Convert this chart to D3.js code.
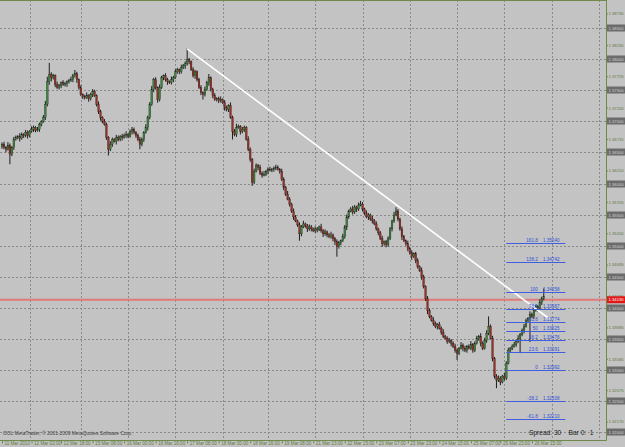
<!DOCTYPE html>
<html><head><meta charset="utf-8">
<script src="https://cdn.jsdelivr.net/npm/d3@7"></script>
<style>body{margin:0;background:#c3c3c3}svg{display:block}</style>
</head><body>
<script>
// ---- data ----
const closes = [1.36630,1.36582,1.36550,1.36614,1.36470,1.36582,1.36710,1.36742,1.36758,1.36726,
1.36790,1.36774,1.36822,1.36774,1.36838,1.36870,1.36902,1.36854,1.36870,1.36950,
1.36998,1.37062,1.37270,1.37638,1.37750,1.37702,1.37734,1.37590,1.37542,1.37574,
1.37622,1.37590,1.37606,1.37638,1.37654,1.37670,1.37734,1.37766,1.37670,1.37542,
1.37430,1.37398,1.37382,1.37414,1.37366,1.37430,1.37478,1.37414,1.37270,1.37158,
1.37062,1.36998,1.36950,1.36742,1.36550,1.36630,1.36710,1.36678,1.36742,1.36710,
1.36758,1.36742,1.36774,1.36790,1.36758,1.36838,1.36870,1.36822,1.36774,1.36710,
1.36630,1.36710,1.36822,1.36902,1.37062,1.37270,1.37510,1.37670,1.37542,1.37350,
1.37542,1.37702,1.37734,1.37670,1.37638,1.37622,1.37670,1.37702,1.37798,1.37830,
1.37798,1.37862,1.37894,1.37926,1.37990,1.37958,1.37830,1.37734,1.37798,1.37670,
1.37542,1.37462,1.37430,1.37510,1.37622,1.37702,1.37510,1.37414,1.37350,1.37366,
1.37334,1.37350,1.37302,1.37222,1.37190,1.37254,1.37062,1.36838,1.36790,1.36902,
1.36918,1.36838,1.36870,1.36902,1.36710,1.36550,1.36390,1.36022,1.36198,1.36294,
1.36262,1.36166,1.36134,1.36150,1.36198,1.36230,1.36214,1.36230,1.36246,1.36262,
1.36230,1.36198,1.36070,1.35942,1.35830,1.35750,1.35670,1.35558,1.35462,1.35398,
1.35334,1.35190,1.35302,1.35350,1.35318,1.35270,1.35302,1.35270,1.35238,1.35270,
1.35254,1.35302,1.35238,1.35190,1.35222,1.35174,1.35142,1.35174,1.35110,1.35062,
1.34982,1.35046,1.35078,1.35142,1.35302,1.35462,1.35558,1.35590,1.35542,1.35622,
1.35590,1.35654,1.35670,1.35590,1.35526,1.35462,1.35494,1.35430,1.35398,1.35350,
1.35270,1.35206,1.35110,1.35030,1.35062,1.35014,1.35110,1.35270,1.35398,1.35494,
1.35558,1.35430,1.35270,1.35142,1.35078,1.35030,1.34950,1.34886,1.34822,1.34870,
1.34758,1.34662,1.34598,1.34502,1.34342,1.34150,1.33958,1.33862,1.33798,1.33750,
1.33702,1.33734,1.33670,1.33606,1.33542,1.33510,1.33462,1.33478,1.33430,1.33382,
1.33318,1.33270,1.33350,1.33398,1.33350,1.33318,1.33382,1.33350,1.33414,1.33318,
1.33430,1.33510,1.33542,1.33430,1.33350,1.33478,1.33590,1.33702,1.33510,1.33190,
1.32902,1.32838,1.32870,1.32806,1.32902,1.32870,1.33110,1.33318,1.33350,1.33382,
1.33414,1.33462,1.33510,1.33574,1.33638,1.33702,1.33798,1.33830,1.33894,1.33862,
1.33958,1.34022,1.33990,1.34086,1.34150,1.34182];
const firstOpen = 1.36600;
// upper / lower shadows, in pips
const wickUp = [3,4,2,5,3,2,4,3,2,5, 3,2,4,3,2,5,3,2,4,3, 2,4,6,8,19,4,3,2,5,3, 2,4,3,2,3,5,3,6,3,2,
4,2,3,5,2,3,4,3,2,5, 3,2,4,3,2,5,3,2,4,3, 2,4,3,5,2,3,4,3,2,3, 4,3,2,5,3,4,6,3,4,2,
5,3,2,4,3,2,5,3,4,3, 2,5,3,4,18,3,2,4,3,2, 3,4,2,5,3,6,2,3,4,2, 3,5,2,4,3,2,5,3,4,6,
3,2,4,3,2,5,3,2,4,3, 2,4,3,5,2,3,4,2,3,4, 3,2,4,3,2,5,3,2,4,3, 2,4,3,5,2,3,4,3,2,4,
3,2,5,3,4,2,3,5,2,3, 4,3,2,5,3,4,2,3,5,3, 2,4,5,3,2,4,3,2,5,3, 4,2,3,5,2,3,4,3,2,5,
6,3,2,4,3,2,5,3,4,2, 3,4,2,5,3,2,4,3,2,5, 3,2,4,3,5,2,3,4,2,3, 4,3,2,5,3,4,2,3,5,2,
3,4,2,5,3,4,5,16,3,4, 2,3,4,3,2,5,3,4,2,3, 4,3,5,2,3,4,3,2,5,3, 4,3,2,5,3,13];
const wickDn = [4,3,5,2,16,3,4,2,3,5, 2,4,3,5,3,2,4,3,2,4, 3,2,4,3,5,6,3,4,2,3, 4,2,3,5,3,2,4,3,5,3,
2,4,3,2,5,3,4,2,3,4, 5,3,2,4,10,3,4,2,5,3, 3,5,2,4,3,2,5,3,4,3, 8,3,4,2,5,3,2,4,3,5,
3,2,4,3,5,2,3,4,2,3, 4,3,2,5,3,4,2,3,5,3, 2,4,8,3,2,5,3,4,2,3, 4,3,2,5,3,4,2,13,3,4,
2,5,3,4,2,3,4,6,3,2, 5,3,4,2,3,5,2,3,4,3, 2,4,3,5,3,2,4,3,5,2, 3,11,4,2,3,5,3,4,2,3,
4,2,3,5,3,4,2,3,4,5, 16,3,4,2,3,5,3,2,4,3, 5,3,2,4,3,2,5,3,4,2, 3,4,2,5,3,4,3,2,4,3,
2,4,3,5,2,3,4,3,5,2, 4,3,2,5,3,4,6,3,2,4, 3,5,2,4,3,2,4,3,5,3, 4,11,3,2,5,3,4,2,3,4,
3,2,4,5,3,2,4,3,2,5, 4,13,3,5,2,4,3,2,4,3, 2,4,3,24,3,5,2,4,38,3, 4,2,5,3,4,3];

const priceLabels = [1.38735,1.38230,1.37725,1.37220,1.36715,1.36210,1.35705,1.35200,1.34695,1.34190,1.33685,1.33180,1.32675,1.32170];
const gridPrices = [1.3850,1.3800,1.3750,1.3700,1.3650,1.3600,1.3550,1.3500,1.3450,1.3400,1.3350,1.3300,1.3250,1.3200];
const dateLabels = ["11 Mar 2010","12 Mar 02:00","12 Mar 18:00","15 Mar 08:00","16 Mar 00:00","16 Mar 16:00","17 Mar 08:00","18 Mar 00:00","18 Mar 16:00","19 Mar 08:00","21 Mar 23:00","22 Mar 15:00","23 Mar 07:00","23 Mar 23:00","24 Mar 15:00","25 Mar 07:00","25 Mar 23:00","26 Mar 15:00"];
const dateBars = [0,15,30,46,62,78,94,110,126,142,158,174,190,206,222,238,253,269];
const gridBars = [14,40,64,88,112,135,159,183,207,231,255,279,303];
const trendBars = [94,278];
const trendPrices = [1.38165,1.33820];
const fibLevels = [-61.8,-38.2,0,23.6,38.2,50,61.8,78.6,100,138.2,161.8];
const fibZero = 1.32992, fibHundred = 1.34258;
const fibBars = [256,286], fibTextBar = 283;
const bid = 1.34130;

// ---- layout ----
const W = 625, H = 447, plotR = 606, plotB = 440;
const bg = "#c3c3c3", axisCol = "#6f8a4a", textCol = "#62783e";
const FONT = "Liberation Sans, Arial, sans-serif";

const x = d3.scaleLinear().domain([0, 300]).range([2, 2 + 300 * 1.97]);
const y = d3.scaleLinear().domain([1.38735, 1.32670]).range([13.5, 390.5]);

const svg = d3.select("body").append("svg").attr("width", W).attr("height", H)
  .style("font-family", FONT);
svg.append("rect").attr("width", W).attr("height", H).attr("fill", bg);

svg.append("clipPath").attr("id", "plot").append("rect")
  .attr("x", 0).attr("y", 0).attr("width", plotR).attr("height", plotB);
const plot = svg.append("g").attr("clip-path", "url(#plot)");

// grid
plot.selectAll("line.hg").data(gridPrices).join("line").attr("class", "hg")
  .attr("x1", 0).attr("x2", plotR)
  .attr("y1", d => Math.round(y(d)) + 0.5).attr("y2", d => Math.round(y(d)) + 0.5)
  .attr("stroke", "#8a8a8a").attr("stroke-dasharray", "2,2");
plot.selectAll("line.vg").data(gridBars).join("line").attr("class", "vg")
  .attr("x1", d => Math.round(x(d)) + 0.5).attr("x2", d => Math.round(x(d)) + 0.5)
  .attr("y1", 0).attr("y2", plotB)
  .attr("stroke", "#8a8a8a").attr("stroke-dasharray", "2,2");

// bid line
plot.append("line").attr("x1", 0).attr("x2", plotR)
  .attr("y1", y(bid)).attr("y2", y(bid))
  .attr("stroke", "#e27a7a").attr("stroke-width", 2);

// candles
const candles = closes.map((c, i) => {
  const o = i === 0 ? firstOpen : closes[i - 1];
  return { i, o, c,
    h: Math.max(o, c) + wickUp[i] * 0.0001,
    l: Math.min(o, c) - wickDn[i] * 0.0001 };
});
const cg = plot.append("g");
cg.selectAll("line").data(candles).join("line")
  .attr("x1", d => x(d.i)).attr("x2", d => x(d.i))
  .attr("y1", d => y(d.h)).attr("y2", d => y(d.l))
  .attr("stroke", "#1e1e1e").attr("stroke-width", 1);
cg.selectAll("rect").data(candles).join("rect")
  .attr("x", d => x(d.i) - 0.85).attr("width", 1.7)
  .attr("y", d => y(Math.max(d.o, d.c)))
  .attr("height", d => Math.max(1, Math.abs(y(d.o) - y(d.c))))
  .attr("fill", d => d.c >= d.o ? "#3a863a" : "#9e2e24")
  .attr("stroke", "#1e1e1e").attr("stroke-width", 0.3);

// trend line
plot.append("line")
  .attr("x1", x(trendBars[0])).attr("y1", y(trendPrices[0]))
  .attr("x2", x(trendBars[1])).attr("y2", y(trendPrices[1]))
  .attr("stroke", "#ffffff").attr("stroke-width", 1.6);

// fibonacci levels
const fib = fibLevels.map(l => ({ l, p: fibZero + (fibHundred - fibZero) * l / 100 }));
const fg = plot.append("g");
fg.selectAll("line").data(fib).join("line")
  .attr("x1", x(fibBars[0])).attr("x2", x(fibBars[1]))
  .attr("y1", d => Math.round(y(d.p)) + 0.5).attr("y2", d => Math.round(y(d.p)) + 0.5)
  .attr("stroke", "#3f5fe0").attr("stroke-width", 1);
fg.selectAll("text").data(fib).join("text")
  .attr("x", x(fibTextBar)).attr("y", d => Math.round(y(d.p)) - 1)
  .attr("text-anchor", "end").attr("font-size", 4.6).attr("fill", "#2f4fd8")
  .attr("xml:space", "preserve")
  .text(d => `${d.l}    ${d.p.toFixed(5)}`);

// borders
svg.append("line").attr("x1", 0).attr("x2", plotR + 0.5).attr("y1", 0.5).attr("y2", 0.5).attr("stroke", axisCol);
svg.append("line").attr("x1", plotR + 0.5).attr("x2", plotR + 0.5).attr("y1", 0).attr("y2", plotB + 0.5).attr("stroke", axisCol);
svg.append("line").attr("x1", 0).attr("x2", plotR + 0.5).attr("y1", plotB + 0.5).attr("y2", plotB + 0.5).attr("stroke", axisCol);

// right price axis
const ra = svg.append("g").attr("transform", `translate(${plotR + 0.5},0)`)
  .call(d3.axisRight(y).tickValues(priceLabels).tickSize(1.5).tickSizeOuter(0).tickFormat(d3.format(".5f")));
ra.select(".domain").remove();
ra.selectAll(".tick line").attr("stroke", axisCol);
ra.selectAll(".tick text").attr("x", 2).attr("font-size", 4.2).attr("fill", textCol).attr("font-family", FONT);

// grid price boxes on axis
const gb = svg.append("g").selectAll("g").data(gridPrices).join("g")
  .attr("transform", d => `translate(${plotR + 1},${Math.round(y(d))})`);
gb.append("rect").attr("x", 0).attr("y", -3.5).attr("width", 18).attr("height", 7).attr("fill", "#6c6c6c");
gb.append("text").attr("x", 1.5).attr("y", 1.6).attr("font-size", 4.2).attr("fill", "#cfcfcf").text(d => d.toFixed(5));

// bid box
const bb = svg.append("g").attr("transform", `translate(${plotR + 1},${y(bid)})`);
bb.append("rect").attr("x", 0).attr("y", -3.5).attr("width", 18).attr("height", 7).attr("fill", "#e01818");
bb.append("text").attr("x", 1.5).attr("y", 1.6).attr("font-size", 4.2).attr("fill", "#ffffff").text(bid.toFixed(5));

// bottom time axis
const ba = svg.append("g").attr("transform", `translate(0,${plotB + 0.5})`)
  .call(d3.axisBottom(x).tickValues(dateBars).tickSize(3).tickSizeOuter(0).tickFormat((d, i) => dateLabels[i]));
ba.select(".domain").remove();
ba.selectAll(".tick line").attr("stroke", axisCol);
ba.selectAll(".tick text").attr("text-anchor", "start").attr("x", 2).attr("y", 1.5)
  .attr("font-size", 4.6).attr("fill", textCol).attr("font-family", FONT);

// info texts
svg.append("text").attr("x", 3).attr("y", 435).attr("font-size", 4.9).attr("fill", "#404040")
  .text("OOL MetaTrader, © 2001-2009 MetaQuotes Software Corp.");
svg.append("text").attr("x", 529).attr("y", 435).attr("font-size", 6.6).attr("fill", "#1c1c1c")
  .attr("xml:space", "preserve").text("Spread: 30    Bar 0:  1");
</script>
</body></html>
